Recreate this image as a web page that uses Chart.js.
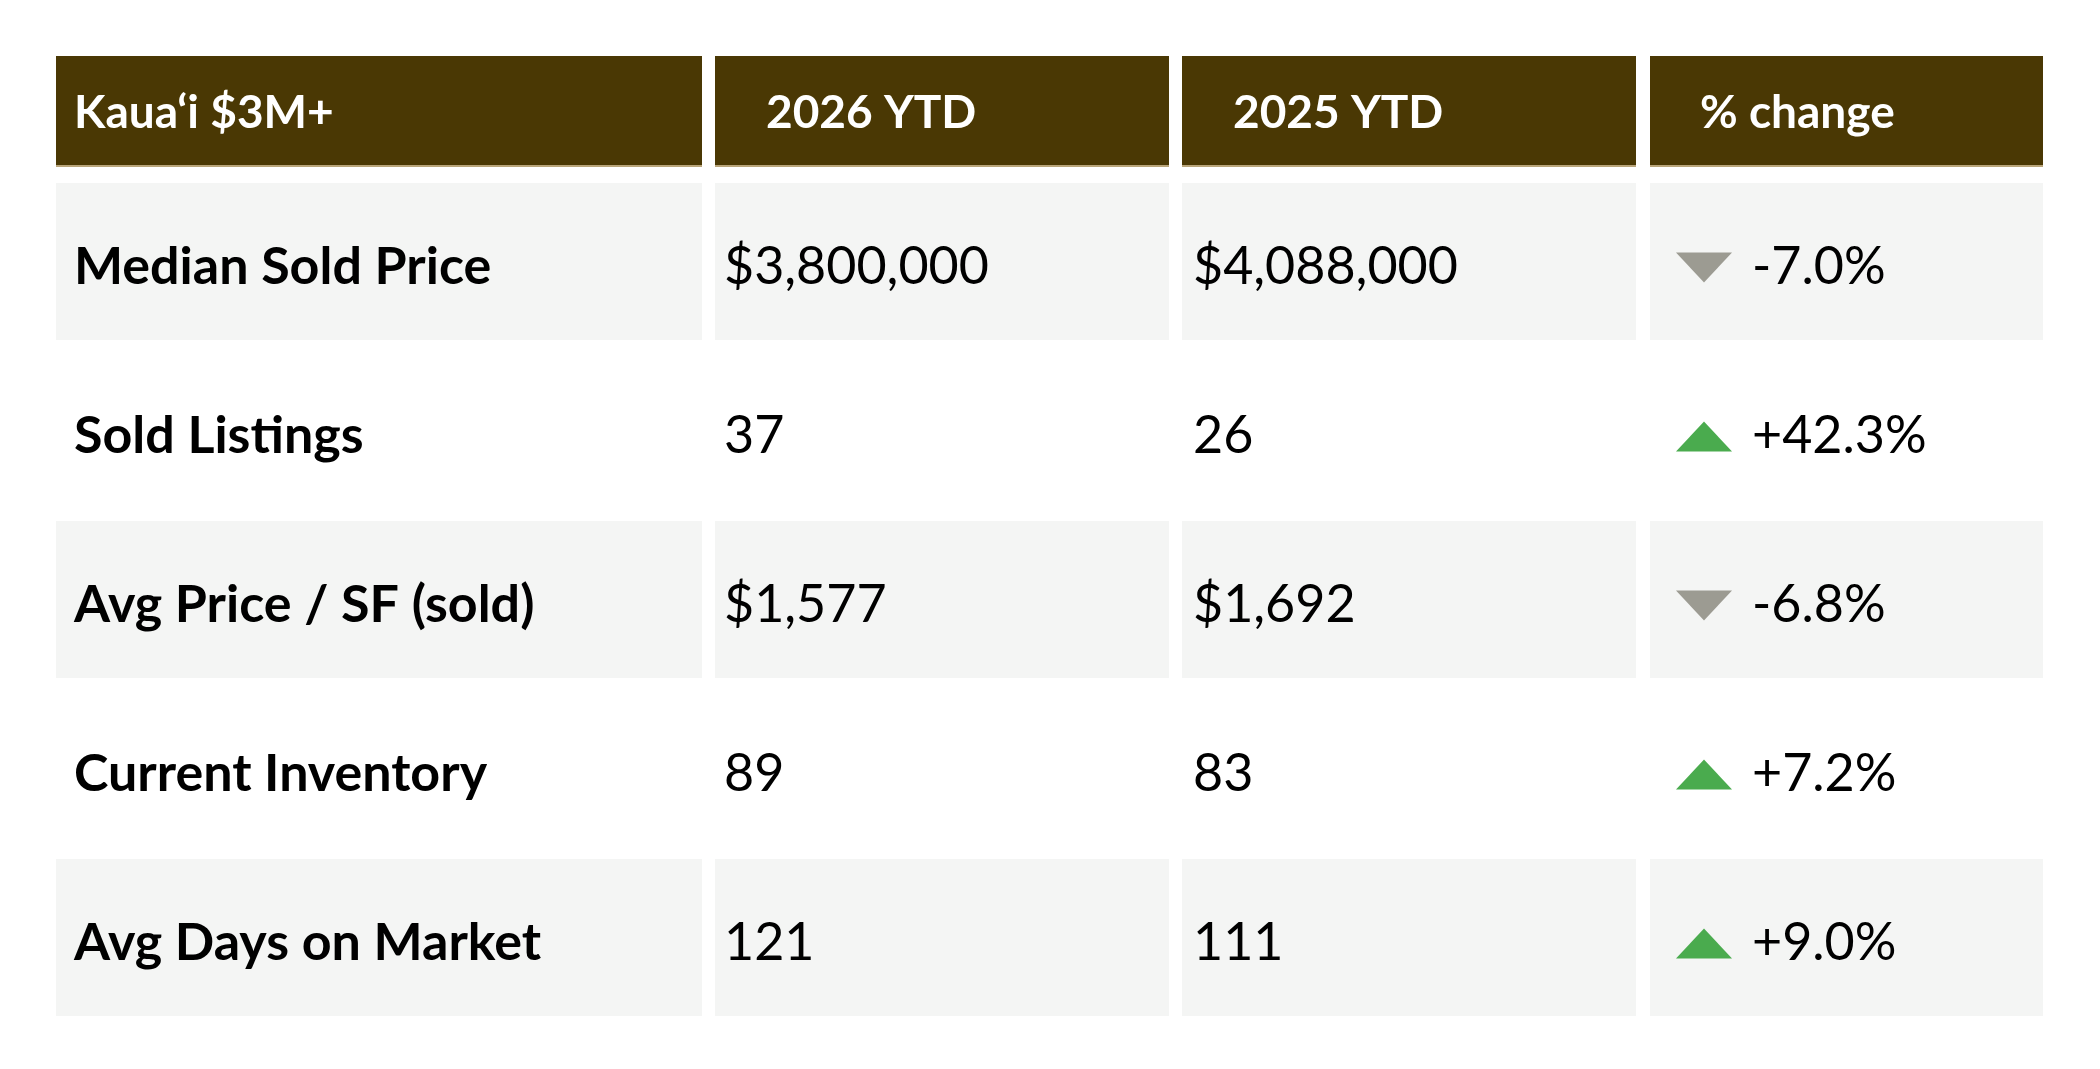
<!DOCTYPE html>
<html><head><meta charset="utf-8">
<script src="https://cdn.jsdelivr.net/npm/chart.js@4/dist/chart.umd.min.js"></script>
<style>html,body{margin:0;padding:0;background:#fff}#wrap{width:2100px;height:1069px}</style>
</head><body><div id="wrap"><canvas id="c"></canvas></div>
<script>
const title = "Kaua\u2018i $3M+";
const headers = ["2026 YTD", "2025 YTD", "% change"];
const metrics = ["Median Sold Price", "Sold Listings", "Avg Price / SF (sold)", "Current Inventory", "Avg Days on Market"];
const values2026 = ["$3,800,000", "37", "$1,577", "89", "121"];
const values2025 = ["$4,088,000", "26", "$1,692", "83", "111"];
const changes = ["-7.0%", "+42.3%", "-6.8%", "+7.2%", "+9.0%"];
const directions = [-1, 1, -1, 1, 1];

const tablePlugin = {
  id: 'table',
  afterDraw(chart) {
    const ctx = chart.ctx;
    const cols = [[56, 702], [715, 1169], [1182, 1636], [1650, 2043]];
    const hdr = [56, 167];
    const rowTop = 183, pitch = 169, rowH = 157;
    ctx.save();
    // header
    cols.forEach(([a, b]) => {
      ctx.fillStyle = '#4a3804';
      ctx.fillRect(a, hdr[0], b - a, hdr[1] - hdr[0]);
      ctx.fillStyle = '#b9a57a';
      ctx.fillRect(a, hdr[1] - 2, b - a, 2);
    });
    ctx.fillStyle = '#ffffff';
    ctx.textBaseline = 'middle';
    ctx.font = 'bold 46px Lato';
    const hy = 113;
    ctx.fillText(title, 74, hy);
    ctx.fillText(headers[0], 766, hy);
    ctx.fillText(headers[1], 1233, hy);
    ctx.fillText(headers[2], 1700, hy);
    metrics.forEach((m, i) => {
      const top = rowTop + i * pitch;
      const cy = top + rowH / 2 + 6;
      if (i % 2 === 0) {
        ctx.fillStyle = '#f4f5f4';
        cols.forEach(([a, b]) => ctx.fillRect(a, top, b - a, rowH));
      }
      ctx.fillStyle = '#000';
      ctx.font = 'bold 52px Lato';
      ctx.fillText(m, 74, cy);
      ctx.font = '52px Lato';
      ctx.fillText(values2026[i], 724, cy);
      ctx.fillText(values2025[i], 1193, cy);
      ctx.fillText(changes[i], 1752, cy);
      // triangle
      const tx = 1676, tw = 56, th = 30;
      ctx.beginPath();
      if (directions[i] > 0) {
        ctx.fillStyle = '#4aab4e';
        ctx.moveTo(tx, cy + th / 2); ctx.lineTo(tx + tw, cy + th / 2); ctx.lineTo(tx + tw / 2, cy - th / 2);
      } else {
        ctx.fillStyle = '#9c9b92';
        ctx.moveTo(tx, cy - th / 2); ctx.lineTo(tx + tw, cy - th / 2); ctx.lineTo(tx + tw / 2, cy + th / 2);
      }
      ctx.closePath(); ctx.fill();
    });
    ctx.restore();
  }
};

new Chart(document.getElementById('c'), {
  type: 'bar',
  data: { labels: metrics, datasets: [{ data: [] }] },
  options: {
    responsive: true, maintainAspectRatio: false, animation: false,
    layout: { padding: 0 },
    plugins: { legend: { display: false }, tooltip: { enabled: false } },
    scales: { x: { display: false }, y: { display: false } }
  },
  plugins: [tablePlugin]
});
</script></body></html>
